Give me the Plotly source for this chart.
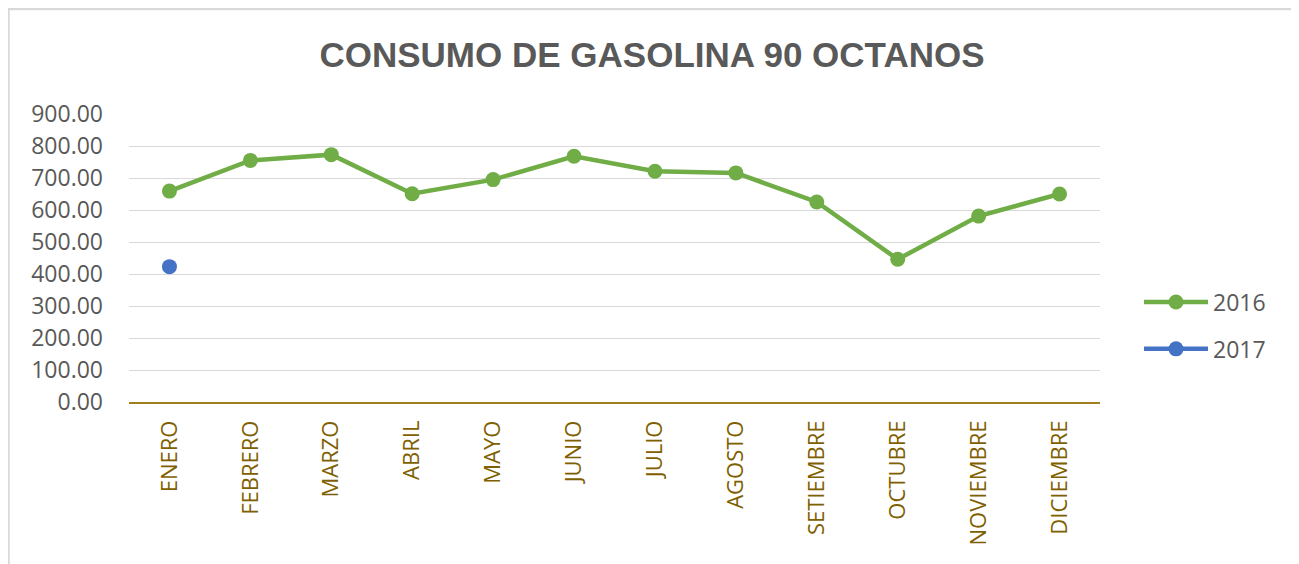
import plotly.graph_objects as go

meses = ["ENERO", "FEBRERO", "MARZO", "ABRIL", "MAYO", "JUNIO", "JULIO",
         "AGOSTO", "SETIEMBRE", "OCTUBRE", "NOVIEMBRE", "DICIEMBRE"]
consumo_2016 = [659, 755, 773, 651, 695, 768, 721, 716, 625, 446, 581, 650]
consumo_2017 = [423, None, None, None, None, None, None, None, None, None, None, None]
y_ticks = [0, 100, 200, 300, 400, 500, 600, 700, 800, 900]

# page is offset by the 8px default body margin
OFF = 8
W, H = 1291, 556
L, R, T, B = 121, 199, 106, 162

fig = go.Figure()
fig.add_trace(go.Scatter(
    x=meses, y=consumo_2016, name="2016", mode="lines+markers",
    line=dict(color="#70AD47", width=4.5),
    marker=dict(color="#70AD47", size=15),
    legendgroup="a",
))
fig.add_trace(go.Scatter(
    x=meses, y=consumo_2017, name="2017", mode="lines+markers",
    line=dict(color="#4472C4", width=4.5),
    marker=dict(color="#4472C4", size=15),
    legendgroup="b",
))

pw = W - L - R
ph = H - T - B
def px_x(p):  # page pixel -> paper x
    return (p - OFF - L) / pw
def px_y(p):  # page pixel -> paper y
    return (H - B - (p - OFF)) / ph

fig.update_layout(
    width=W, height=H,
    margin=dict(l=L, r=R, t=T, b=B, pad=0),
    paper_bgcolor="white", plot_bgcolor="white",
    font=dict(family="Open Sans, sans-serif", color="#595959"),
    title=dict(
        text="<b>CONSUMO DE GASOLINA 90 OCTANOS</b>",
        font=dict(family="Liberation Sans, Arial, sans-serif", size=35, color="#595959"),
        x=(652 - OFF) / W, xref="container", xanchor="center",
        y=1 - (55 - OFF) / H, yref="container", yanchor="middle",
    ),
    xaxis=dict(
        type="category",
        showgrid=False,
        showline=True, linecolor="#A07F1E", linewidth=1.5,
        ticks="", tickangle=-90,
        tickfont=dict(family="Open Sans, sans-serif", size=22, color="#7F6000"),
        ticklabelstandoff=8,
        range=[-0.5, 11.5],
        fixedrange=True,
    ),
    yaxis=dict(
        range=[0, 900],
        tickvals=y_ticks,
        ticktext=[f"{v:.2f}" for v in y_ticks],
        showgrid=True, gridcolor="#D9D9D9", gridwidth=1,
        zeroline=False, showline=False, ticks="",
        tickfont=dict(family="Open Sans, sans-serif", size=23, color="#595959"),
        ticklabelstandoff=25,
        fixedrange=True,
    ),
    legend=dict(
        x=px_x(1139), xanchor="left",
        y=px_y(325.5), yanchor="middle",
        font=dict(family="Open Sans, sans-serif", size=23, color="#595959"),
        traceorder="grouped", tracegroupgap=14,
        bgcolor="rgba(0,0,0,0)",
        itemwidth=64,
    ),
    showlegend=True,
    shapes=[dict(
        type="rect", xref="paper", yref="paper",
        x0=px_x(8.5), x1=px_x(1295), y0=px_y(600), y1=px_y(9),
        line=dict(color="#D9D9D9", width=2.5), fillcolor="rgba(0,0,0,0)",
        layer="below",
    )],
)

fig.write_html("out.html")
